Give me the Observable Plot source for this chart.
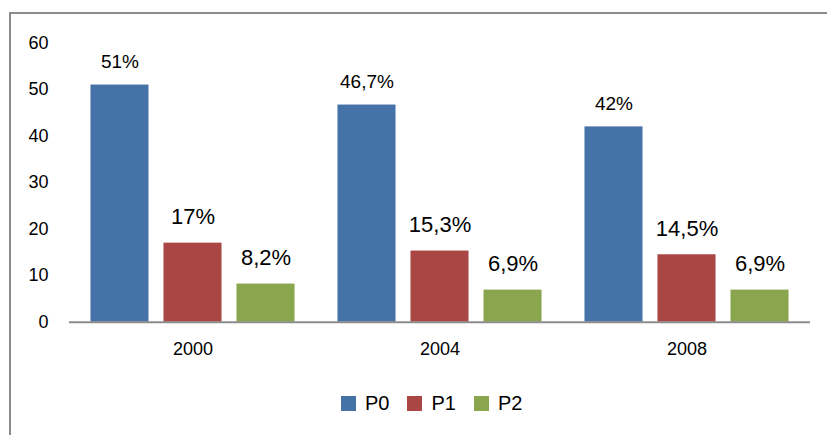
<!DOCTYPE html>
<html>
<head>
<meta charset="utf-8">
<script src="https://cdn.jsdelivr.net/npm/d3@7"></script>
<script src="https://cdn.jsdelivr.net/npm/@observablehq/plot@0.6"></script>
<style>
  html, body { margin: 0; padding: 0; background: #fff; }
  body { width: 827px; height: 435px; position: relative; overflow: hidden; font-family: "Liberation Sans", Arial, sans-serif; }
  #frame { position: absolute; left: 9px; top: 12px; width: 830px; height: 440px; border-left: 2px solid #8c8c8c; border-top: 2px solid #8c8c8c; pointer-events: none; }
  #chart { position: absolute; left: 0; top: 0; }
  #legend { position: absolute; left: 341px; top: 393px; display: flex; align-items: center; font-size: 20px; line-height: 20px; color: #000; }
  #legend .item { display: flex; align-items: center; margin-right: 18px; }
  #legend .sw { width: 15px; height: 15px; margin-right: 9px; }
</style>
</head>
<body>
<div id="chart"></div>
<div id="legend"></div>
<div id="frame"></div>
<script>
const years = ["2000", "2004", "2008"];
const series = ["P0", "P1", "P2"];
const colors = ["#4572A7", "#AA4643", "#89A54E"];
const p0 = [51, 46.7, 42];
const p1 = [17, 15.3, 14.5];
const p2 = [8.2, 6.9, 6.9];
const p0Labels = ["51%", "46,7%", "42%"];
const p1Labels = ["17%", "15,3%", "14,5%"];
const p2Labels = ["8,2%", "6,9%", "6,9%"];
const yTicks = [0, 10, 20, 30, 40, 50, 60];

const values = [p0, p1, p2];
const labels = [p0Labels, p1Labels, p2Labels];
const data = years.flatMap((year, i) =>
  series.map((s, j) => ({ year, series: s, value: values[j][i], label: labels[j][i] }))
);

const chart = Plot.plot({
  width: 827,
  height: 375,
  marginLeft: 69,
  marginRight: 17,
  marginTop: 42.7,
  marginBottom: 53.3,
  style: { fontFamily: "Liberation Sans, Arial, sans-serif", fontSize: "18px", color: "#000", background: "transparent", overflow: "visible" },
  fx: { domain: years, padding: 0, round: false, label: null, axis: "bottom", tickSize: 0, tickPadding: 20 },
  x: { domain: series, paddingInner: 0.205, paddingOuter: 0.294, round: false, axis: null },
  y: { domain: [0, 60], ticks: yTicks, tickSize: 0, tickPadding: 21, label: null },
  color: { domain: series, range: colors },
  marks: [
    Plot.barY(data, { fx: "year", x: "series", y: "value", fill: "series" }),
    Plot.ruleY([0], { stroke: "#8c8c8c", strokeWidth: 2 }),
    Plot.text(data.filter(d => d.series === "P0"), { fx: "year", x: "series", y: "value", text: "label", lineAnchor: "bottom", dy: -17, fontSize: 19, fill: "#000" }),
    Plot.text(data.filter(d => d.series !== "P0"), { fx: "year", x: "series", y: "value", text: "label", lineAnchor: "bottom", dy: -19, fontSize: 22, fill: "#000" })
  ]
});
document.getElementById("chart").appendChild(chart);

const legend = document.getElementById("legend");
series.forEach((s, i) => {
  const item = document.createElement("div");
  item.className = "item";
  const sw = document.createElement("div");
  sw.className = "sw";
  sw.style.background = colors[i];
  const t = document.createElement("span");
  t.textContent = s;
  item.appendChild(sw);
  item.appendChild(t);
  legend.appendChild(item);
});
</script>
</body>
</html>
